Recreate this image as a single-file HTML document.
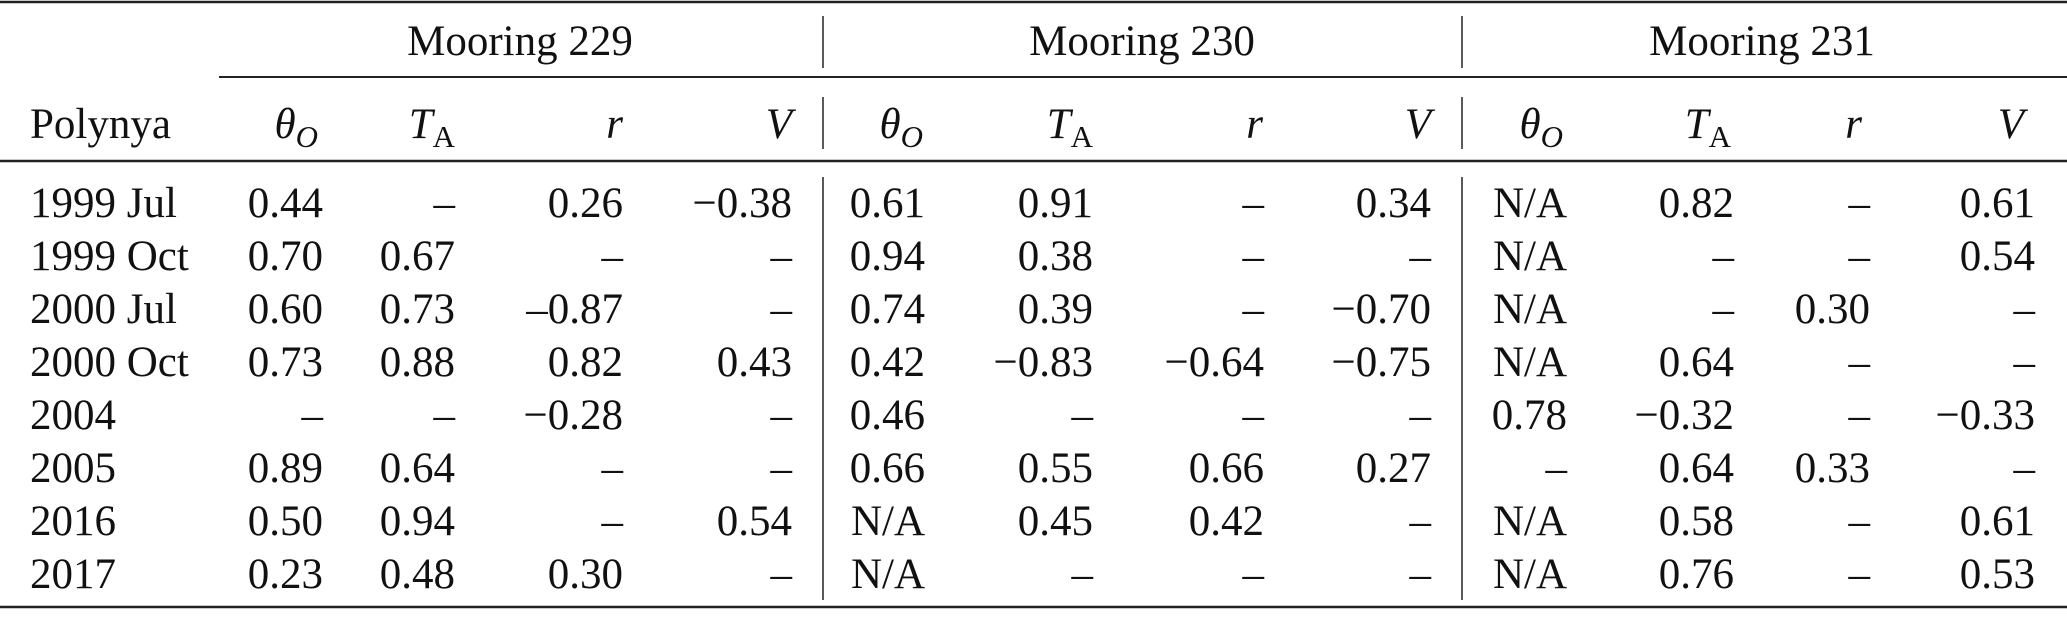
<!DOCTYPE html>
<html><head><meta charset="utf-8"><style>
html,body{margin:0;padding:0;background:#fff;}
svg{display:block;}
text{font-family:"Liberation Serif",serif;font-size:43px;fill:#111;}
.i{font-style:italic;}
</style></head><body>
<svg width="2067" height="619" viewBox="0 0 2067 619" xmlns="http://www.w3.org/2000/svg">
<g stroke="#222" fill="none">
<line x1="0" y1="2" x2="2067" y2="2" stroke-width="2.5"/>
<line x1="219" y1="77" x2="2067" y2="77" stroke-width="2"/>
<line x1="0" y1="161" x2="2067" y2="161" stroke-width="2.5"/>
<line x1="0" y1="607" x2="2067" y2="607" stroke-width="2.5"/>
<line x1="823" y1="16" x2="823" y2="68" stroke-width="1.5"/>
<line x1="1462" y1="16" x2="1462" y2="68" stroke-width="1.5"/>
<line x1="823" y1="97" x2="823" y2="149" stroke-width="1.5"/>
<line x1="1462" y1="97" x2="1462" y2="149" stroke-width="1.5"/>
<line x1="823" y1="177" x2="823" y2="600" stroke-width="1.5"/>
<line x1="1462" y1="177" x2="1462" y2="600" stroke-width="1.5"/>
</g>
<text x="520" y="55" text-anchor="middle">Mooring 229</text>
<text x="1142" y="55" text-anchor="middle">Mooring 230</text>
<text x="1762" y="55" text-anchor="middle">Mooring 231</text>
<text x="30" y="138">Polynya</text>
<g>
<text x="318" y="138" text-anchor="end"><tspan class="i">θ</tspan><tspan class="i" font-size="31" dy="9">O</tspan></text>
<text x="455" y="138" text-anchor="end"><tspan class="i">T</tspan><tspan font-size="31" dy="9">A</tspan></text>
<text x="623" y="138" text-anchor="end" class="i">r</text>
<text x="792" y="138" text-anchor="end" class="i">V</text>
<text x="923" y="138" text-anchor="end"><tspan class="i">θ</tspan><tspan class="i" font-size="31" dy="9">O</tspan></text>
<text x="1093" y="138" text-anchor="end"><tspan class="i">T</tspan><tspan font-size="31" dy="9">A</tspan></text>
<text x="1263" y="138" text-anchor="end" class="i">r</text>
<text x="1431" y="138" text-anchor="end" class="i">V</text>
<text x="1563" y="138" text-anchor="end"><tspan class="i">θ</tspan><tspan class="i" font-size="31" dy="9">O</tspan></text>
<text x="1731" y="138" text-anchor="end"><tspan class="i">T</tspan><tspan font-size="31" dy="9">A</tspan></text>
<text x="1862" y="138" text-anchor="end" class="i">r</text>
<text x="2024" y="138" text-anchor="end" class="i">V</text>
</g>
<g text-anchor="end">
<text x="30" y="217" text-anchor="start">1999 Jul</text>
<text x="323" y="217">0.44</text><text x="455" y="217">–</text><text x="623" y="217">0.26</text><text x="792" y="217">−0.38</text>
<text x="925" y="217">0.61</text><text x="1093" y="217">0.91</text><text x="1264" y="217">–</text><text x="1431" y="217">0.34</text>
<text x="1567" y="217">N/A</text><text x="1734" y="217">0.82</text><text x="1870" y="217">–</text><text x="2035" y="217">0.61</text>

<text x="30" y="270" text-anchor="start">1999 Oct</text>
<text x="323" y="270">0.70</text><text x="455" y="270">0.67</text><text x="623" y="270">–</text><text x="792" y="270">–</text>
<text x="925" y="270">0.94</text><text x="1093" y="270">0.38</text><text x="1264" y="270">–</text><text x="1431" y="270">–</text>
<text x="1567" y="270">N/A</text><text x="1734" y="270">–</text><text x="1870" y="270">–</text><text x="2035" y="270">0.54</text>

<text x="30" y="323" text-anchor="start">2000 Jul</text>
<text x="323" y="323">0.60</text><text x="455" y="323">0.73</text><text x="623" y="323">–0.87</text><text x="792" y="323">–</text>
<text x="925" y="323">0.74</text><text x="1093" y="323">0.39</text><text x="1264" y="323">–</text><text x="1431" y="323">−0.70</text>
<text x="1567" y="323">N/A</text><text x="1734" y="323">–</text><text x="1870" y="323">0.30</text><text x="2035" y="323">–</text>

<text x="30" y="376" text-anchor="start">2000 Oct</text>
<text x="323" y="376">0.73</text><text x="455" y="376">0.88</text><text x="623" y="376">0.82</text><text x="792" y="376">0.43</text>
<text x="925" y="376">0.42</text><text x="1093" y="376">−0.83</text><text x="1264" y="376">−0.64</text><text x="1431" y="376">−0.75</text>
<text x="1567" y="376">N/A</text><text x="1734" y="376">0.64</text><text x="1870" y="376">–</text><text x="2035" y="376">–</text>

<text x="30" y="429" text-anchor="start">2004</text>
<text x="323" y="429">–</text><text x="455" y="429">–</text><text x="623" y="429">−0.28</text><text x="792" y="429">–</text>
<text x="925" y="429">0.46</text><text x="1093" y="429">–</text><text x="1264" y="429">–</text><text x="1431" y="429">–</text>
<text x="1567" y="429">0.78</text><text x="1734" y="429">−0.32</text><text x="1870" y="429">–</text><text x="2035" y="429">−0.33</text>

<text x="30" y="482" text-anchor="start">2005</text>
<text x="323" y="482">0.89</text><text x="455" y="482">0.64</text><text x="623" y="482">–</text><text x="792" y="482">–</text>
<text x="925" y="482">0.66</text><text x="1093" y="482">0.55</text><text x="1264" y="482">0.66</text><text x="1431" y="482">0.27</text>
<text x="1567" y="482">–</text><text x="1734" y="482">0.64</text><text x="1870" y="482">0.33</text><text x="2035" y="482">–</text>

<text x="30" y="535" text-anchor="start">2016</text>
<text x="323" y="535">0.50</text><text x="455" y="535">0.94</text><text x="623" y="535">–</text><text x="792" y="535">0.54</text>
<text x="925" y="535">N/A</text><text x="1093" y="535">0.45</text><text x="1264" y="535">0.42</text><text x="1431" y="535">–</text>
<text x="1567" y="535">N/A</text><text x="1734" y="535">0.58</text><text x="1870" y="535">–</text><text x="2035" y="535">0.61</text>

<text x="30" y="588" text-anchor="start">2017</text>
<text x="323" y="588">0.23</text><text x="455" y="588">0.48</text><text x="623" y="588">0.30</text><text x="792" y="588">–</text>
<text x="925" y="588">N/A</text><text x="1093" y="588">–</text><text x="1264" y="588">–</text><text x="1431" y="588">–</text>
<text x="1567" y="588">N/A</text><text x="1734" y="588">0.76</text><text x="1870" y="588">–</text><text x="2035" y="588">0.53</text>
</g>
</svg>
</body></html>
